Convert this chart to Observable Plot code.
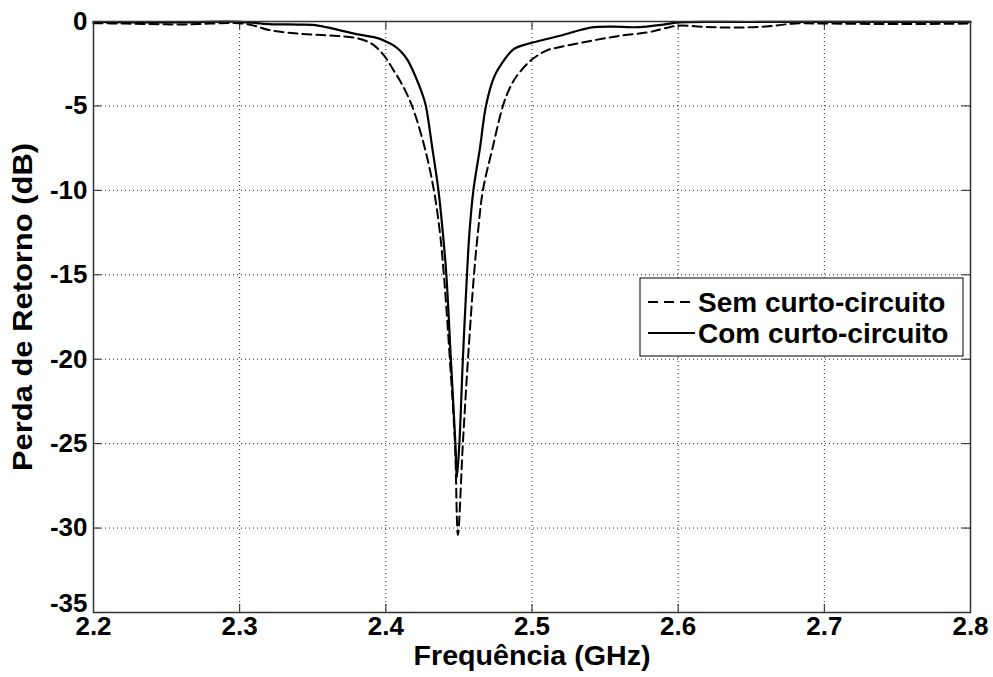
<!DOCTYPE html>
<html><head><meta charset="utf-8">
<script src="https://cdn.jsdelivr.net/npm/d3@7"></script>
<script src="https://cdn.jsdelivr.net/npm/@observablehq/plot@0.6"></script>
<style>body{margin:0;background:#fff}</style>
</head><body><div id="chart"></div>
<script>
const seriesNames = ["Sem curto-circuito", "Com curto-circuito"];
const xLabel = "Frequência (GHz)";
const yLabel = "Perda de Retorno (dB)";
const xTicks = [2.2, 2.3, 2.4, 2.5, 2.6, 2.7, 2.8];
const yTicks = [0, -5, -10, -15, -20, -25, -30, -35];

const semFreq = [2.20,2.22,2.24,2.26,2.28,2.30,2.31,2.32,2.34,2.36,2.38,2.39,2.395,2.40,2.405,2.41,2.415,2.4192,2.4267,2.4329,2.4370,2.4397,2.4438,2.4473,2.4493,2.4527,2.4562,2.4603,2.4630,2.4664,2.4730,2.4801,2.4845,2.489,2.4993,2.51,2.52,2.54,2.56,2.58,2.59,2.60,2.62,2.64,2.66,2.68,2.70,2.75,2.80];
const semDb = [-0.10,-0.12,-0.15,-0.18,-0.12,-0.10,-0.25,-0.50,-0.72,-0.82,-0.98,-1.30,-1.65,-2.15,-2.85,-3.55,-4.4,-5.3,-7.5,-10.0,-12.5,-15.0,-20.0,-25.0,-30.4,-25.0,-20.0,-15.0,-12.5,-10.0,-7.5,-5.0,-4.0,-3.3,-2.3,-1.72,-1.5,-1.15,-0.85,-0.63,-0.42,-0.25,-0.33,-0.36,-0.30,-0.12,-0.12,-0.15,-0.12];

const comFreq = [2.20,2.25,2.30,2.32,2.34,2.35,2.36,2.38,2.395,2.40,2.405,2.41,2.415,2.42,2.425,2.4274,2.4318,2.4360,2.4390,2.4414,2.4445,2.4476,2.4486,2.4503,2.4527,2.4555,2.4572,2.4599,2.4644,2.4685,2.474,2.4808,2.4877,2.4973,2.508,2.52,2.54,2.555,2.57,2.59,2.60,2.65,2.70,2.80];
const comDb = [-0.03,-0.06,-0.02,-0.15,-0.18,-0.20,-0.35,-0.75,-1.0,-1.18,-1.4,-1.75,-2.3,-3.2,-4.3,-5.0,-7.5,-10,-12.5,-15,-20,-25,-27,-25,-20,-15,-12.5,-10,-7.5,-5,-3.3,-2.3,-1.62,-1.32,-1.08,-0.83,-0.36,-0.30,-0.34,-0.18,-0.05,-0.03,-0.02,-0.02];

const sem = semFreq.map((f, i) => ({f, db: semDb[i]}));
const com = comFreq.map((f, i) => ({f, db: comDb[i]}));

const W = 993, H = 677, mL = 93, mR = 23, mT = 21, mB = 65;
const plotW = W - mL - mR, plotH = H - mT - mB;
const font = "'Liberation Sans', Arial, Helvetica, sans-serif";
const fs = 26;

const plot = Plot.plot({
  width: W, height: H,
  marginLeft: mL, marginRight: mR, marginTop: mT, marginBottom: mB,
  style: {fontFamily: font, background: "#fff", color: "#000", overflow: "visible"},
  x: {domain: [2.2, 2.8], axis: null},
  y: {domain: [-35, 0], axis: null},
  marks: [
    Plot.gridX(xTicks.slice(1, -1), {stroke: "#222", strokeOpacity: 1, strokeWidth: 1, strokeDasharray: "1,3"}),
    Plot.gridY(yTicks.slice(1, -1), {stroke: "#222", strokeOpacity: 1, strokeWidth: 1, strokeDasharray: "1,3"}),
    Plot.ruleX(xTicks, {x: d => d, insetTop: plotH - 8, stroke: "#222"}),
    Plot.ruleX(xTicks, {x: d => d, insetBottom: plotH - 8, stroke: "#222"}),
    Plot.ruleY(yTicks, {y: d => d, insetRight: plotW - 8, stroke: "#222"}),
    Plot.ruleY(yTicks, {y: d => d, insetLeft: plotW - 8, stroke: "#222"}),
    Plot.line(sem, {x: "f", y: "db", stroke: "#000", strokeWidth: 2, strokeDasharray: "9,5", curve: "catmull-rom"}),
    Plot.line(com, {x: "f", y: "db", stroke: "#000", strokeWidth: 2.2, curve: "catmull-rom"}),
    Plot.frame({stroke: "#333", strokeWidth: 1.5}),
    Plot.text(xTicks, {x: d => d, frameAnchor: "bottom", lineAnchor: "top", dy: 4, text: d => d.toFixed(1), fontSize: fs, fontWeight: "bold", fill: "#000"}),
    Plot.text(yTicks.slice(0, -1), {y: d => d, frameAnchor: "left", textAnchor: "end", dx: -6, text: d => String(d), fontSize: fs, fontWeight: "bold", fill: "#000"}),
    Plot.text(yTicks.slice(-1), {y: d => d, frameAnchor: "left", textAnchor: "end", dx: -6, dy: -9, text: d => String(d), fontSize: fs, fontWeight: "bold", fill: "#000"}),
    Plot.text([xLabel], {frameAnchor: "bottom", lineAnchor: "top", dy: 33, text: d => d, fontSize: 28, fontWeight: "bold", fill: "#000", className: "xlab"}),
    Plot.text([yLabel], {frameAnchor: "left", textAnchor: "middle", dx: -70, dy: -10, rotate: -90, text: d => d, fontSize: 28, fontWeight: "bold", fill: "#000", className: "ylab"})
  ]
});

const svg = d3.select(plot);
svg.selectAll(".xlab text").attr("textLength", 237).attr("lengthAdjust", "spacingAndGlyphs");
svg.selectAll(".ylab text").attr("textLength", 328).attr("lengthAdjust", "spacingAndGlyphs");

// Legend inside the plot
const lw = 323, lh = 78;
const lx = W - mR - 7 - lw, ly = mT + 257;
const g = svg.append("g").attr("font-family", font).attr("font-weight", "bold").attr("font-size", 28).attr("text-anchor", "start");
g.append("rect").attr("x", lx).attr("y", ly).attr("width", lw).attr("height", lh)
  .attr("fill", "#fff").attr("stroke", "#000").attr("stroke-width", 1);
seriesNames.forEach((name, i) => {
  const cy = ly + 24 + i * 31;
  g.append("line").attr("x1", lx + 8).attr("x2", lx + 55).attr("y1", cy).attr("y2", cy)
    .attr("stroke", "#000").attr("stroke-width", 2)
    .attr("stroke-dasharray", i === 0 ? "10,6" : null);
  g.append("text").attr("x", lx + 58).attr("y", cy).attr("dy", "0.35em").attr("fill", "#000")
    .attr("text-anchor", "start").text(name);
});

document.getElementById("chart").appendChild(plot);
</script>
</body></html>
